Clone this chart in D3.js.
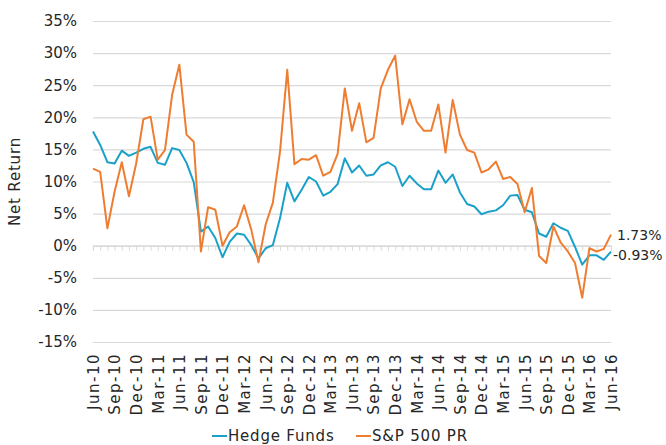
<!DOCTYPE html>
<html>
<head>
<meta charset="utf-8">
<script src="https://cdn.jsdelivr.net/npm/d3@7"></script>
<style>
  html, body { margin: 0; padding: 0; background: #ffffff; }
  svg { display: block; }
  text { font-family: "DejaVu Sans", sans-serif; fill: #262626; }
</style>
</head>
<body>
<svg id="chart" width="666" height="445"></svg>
<script>
const months = [
  "Jun-10","Jul-10","Aug-10","Sep-10","Oct-10","Nov-10","Dec-10","Jan-11","Feb-11","Mar-11","Apr-11","May-11",
  "Jun-11","Jul-11","Aug-11","Sep-11","Oct-11","Nov-11","Dec-11","Jan-12","Feb-12","Mar-12","Apr-12","May-12",
  "Jun-12","Jul-12","Aug-12","Sep-12","Oct-12","Nov-12","Dec-12","Jan-13","Feb-13","Mar-13","Apr-13","May-13",
  "Jun-13","Jul-13","Aug-13","Sep-13","Oct-13","Nov-13","Dec-13","Jan-14","Feb-14","Mar-14","Apr-14","May-14",
  "Jun-14","Jul-14","Aug-14","Sep-14","Oct-14","Nov-14","Dec-14","Jan-15","Feb-15","Mar-15","Apr-15","May-15",
  "Jun-15","Jul-15","Aug-15","Sep-15","Oct-15","Nov-15","Dec-15","Jan-16","Feb-16","Mar-16","Apr-16","May-16",
  "Jun-16"
];
const xTickLabels = [
  "Jun-10","Sep-10","Dec-10","Mar-11","Jun-11","Sep-11","Dec-11","Mar-12","Jun-12","Sep-12","Dec-12","Mar-13",
  "Jun-13","Sep-13","Dec-13","Mar-14","Jun-14","Sep-14","Dec-14","Mar-15","Jun-15","Sep-15","Dec-15","Mar-16","Jun-16"
];
const yTicks = [-15,-10,-5,0,5,10,15,20,25,30,35];

const hedgeFunds = [
  17.8,15.7,13.0,12.8,14.8,14.0,14.5,15.1,15.4,12.9,12.6,15.2,
  14.9,12.9,9.9,2.2,3.0,1.2,-1.8,0.6,1.9,1.7,0.1,-2.0,
  -0.4,0.1,4.3,9.8,6.9,8.7,10.7,10.0,7.8,8.4,9.6,13.6,
  11.4,12.5,10.9,11.1,12.5,13.0,12.3,9.3,10.9,9.7,8.8,8.8,
  11.7,9.8,11.1,8.3,6.5,6.1,4.9,5.3,5.5,6.3,7.8,7.9,
  5.6,5.2,1.9,1.4,3.5,2.8,2.3,-0.2,-2.95,-1.5,-1.5,-2.2,
  -0.93
];
const sp500 = [
  12.0,11.5,2.7,8.4,13.0,7.7,12.8,19.7,20.1,13.4,14.9,23.5,
  28.2,17.3,16.2,-0.9,6.0,5.6,0.0,2.1,3.0,6.3,2.5,-2.6,
  3.3,6.7,14.7,27.4,12.7,13.5,13.4,14.1,10.9,11.5,14.3,24.5,
  17.9,22.2,16.1,16.8,24.5,27.4,29.6,18.9,22.8,19.3,17.9,17.9,
  22.0,14.5,22.7,17.3,14.9,14.5,11.4,11.9,13.1,10.4,10.7,9.6,
  5.2,9.0,-1.6,-2.7,3.0,0.5,-0.9,-2.7,-8.1,-0.4,-0.9,-0.5,
  1.73
];
const seriesNames = ["Hedge Funds", "S&P 500 PR"];
const seriesColors = ["#1ba1c9", "#ef7d31"];
const yTitle = "Net Return";

const svg = d3.select("#chart");
const plotLeft = 93, plotRight = 611, plotTop = 21, plotBottom = 342;

const x = d3.scalePoint().domain(months).range([plotLeft, plotRight]);
const y = d3.scaleLinear().domain([-15, 35]).range([plotBottom, plotTop]);

// Y axis with gridlines
const yAxis = svg.append("g")
  .attr("transform", `translate(${plotLeft},0)`)
  .call(d3.axisLeft(y).tickValues(yTicks).tickSize(-(plotRight - plotLeft)).tickPadding(16)
    .tickFormat(d => d + "%"));
yAxis.select(".domain").remove();
yAxis.selectAll(".tick line").attr("stroke", "#d9d9d9").attr("stroke-width", 1.2);
yAxis.selectAll(".tick text").style("font-size", "15px").style("font-family", "DejaVu Sans").attr("fill", "#262626");

// Category axis at zero with tick marks
const xAxis0 = svg.append("g")
  .attr("transform", `translate(0,${y(0)})`)
  .call(d3.axisBottom(x).tickSize(5).tickFormat(""));
xAxis0.select(".domain").attr("stroke", "#d9d9d9").attr("stroke-width", 1.2);
xAxis0.selectAll(".tick line").attr("stroke", "#d9d9d9").attr("stroke-width", 1);

// Category labels at the bottom
const xAxisB = svg.append("g")
  .attr("transform", `translate(0,${plotBottom})`)
  .call(d3.axisBottom(x).tickValues(xTickLabels).tickSize(0));
xAxisB.select(".domain").remove();
xAxisB.selectAll(".tick text")
  .attr("transform", "rotate(-90)")
  .attr("x", -11).attr("y", 0).attr("dy", "0.36em")
  .attr("text-anchor", "end")
  .style("font-size", "15px").style("font-family", "DejaVu Sans")
  .style("letter-spacing", "1.5px")
  .attr("fill", "#262626");

// Y title
svg.append("text")
  .attr("transform", `translate(15,${(plotTop + plotBottom) / 2}) rotate(-90)`)
  .attr("text-anchor", "middle").attr("dy", "0.35em")
  .style("font-size", "15px").style("letter-spacing", "0.8px")
  .text(yTitle);

// Lines
const line = d3.line().x((d, i) => x(months[i])).y(d => y(d));
[hedgeFunds, sp500].forEach((s, k) => {
  svg.append("path").datum(s)
    .attr("fill", "none").attr("stroke", seriesColors[k])
    .attr("stroke-width", 2).attr("stroke-linejoin", "round")
    .attr("d", line);
});

// End labels
const last = months.length - 1;
[[sp500, 6, 1], [hedgeFunds, 2, 3]].forEach(([s, dx, dyOff]) => {
  const v = s[last];
  svg.append("text")
    .attr("x", x(months[last]) + dx).attr("y", y(v) + dyOff)
    .attr("dy", "0.35em").attr("text-anchor", "start")
    .style("font-size", "14px")
    .text(v.toFixed(2) + "%");
});

// Legend
const legendItems = [
  { name: seriesNames[0], color: seriesColors[0], x: 212 },
  { name: seriesNames[1], color: seriesColors[1], x: 356 }
];
const lg = svg.append("g");
legendItems.forEach(it => {
  lg.append("line").attr("x1", it.x).attr("x2", it.x + 15)
    .attr("y1", 436).attr("y2", 436)
    .attr("stroke", it.color).attr("stroke-width", 2);
  lg.append("text").attr("x", it.x + 16).attr("y", 436).attr("dy", "0.35em")
    .style("font-size", "15px").style("letter-spacing", "0.8px")
    .text(it.name);
});
</script>
</body>
</html>
